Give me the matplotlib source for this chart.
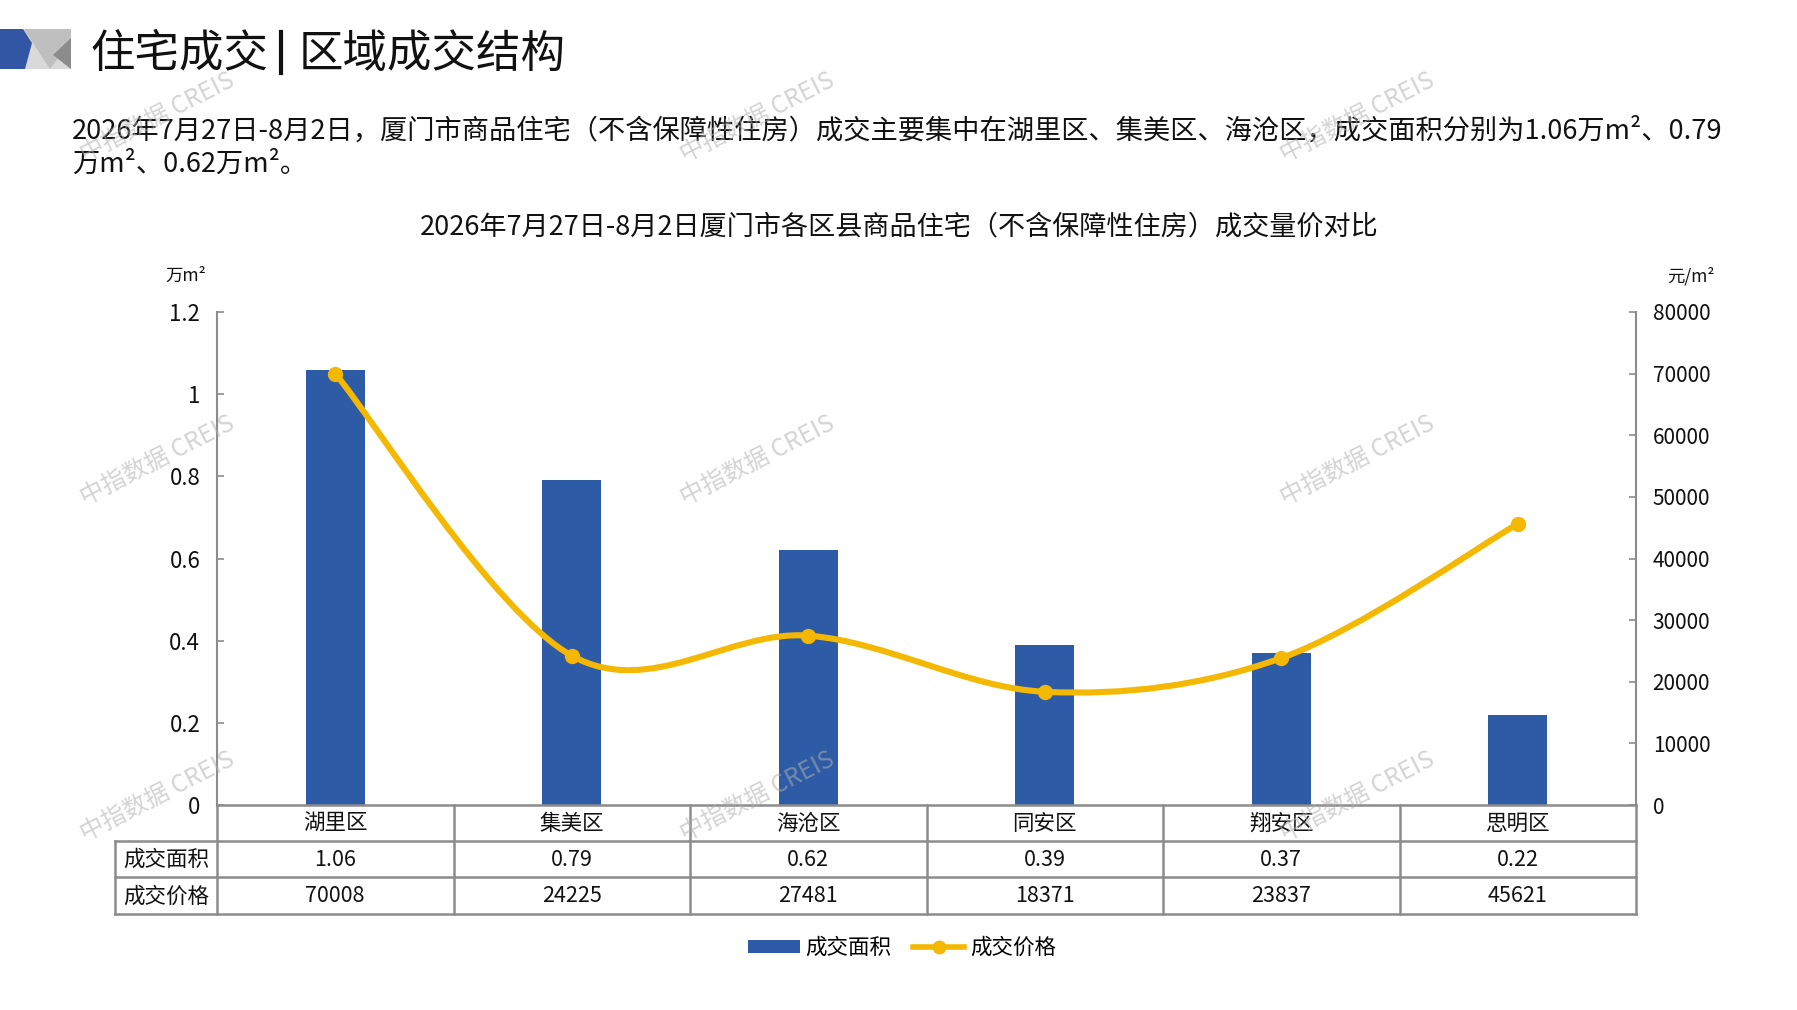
import matplotlib
matplotlib.use("Agg")
import matplotlib.pyplot as plt
from matplotlib.path import Path
from matplotlib.patches import PathPatch, Polygon, Patch
from matplotlib.lines import Line2D
import matplotlib.transforms as mtransforms
import numpy as np

plt.rcParams['font.family'] = ['Noto Sans CJK SC', 'DejaVu Sans']

# ---------------- data ----------------
districts = ['湖里区', '集美区', '海沧区', '同安区', '翔安区', '思明区']
area = [1.06, 0.79, 0.62, 0.39, 0.37, 0.22]          # 万m²
price = [70008, 24225, 27481, 18371, 23837, 45621]   # 元/m²
area_ticks = [0, 0.2, 0.4, 0.6, 0.8, 1.0, 1.2]
area_tick_labels = ['0', '0.2', '0.4', '0.6', '0.8', '1', '1.2']
price_ticks = [0, 10000, 20000, 30000, 40000, 50000, 60000, 70000, 80000]
series_names = ['成交面积', '成交价格']

header_title_a = '住宅成交'
header_title_b = '区域成交结构'
para_line1 = '2026年7月27日-8月2日，厦门市商品住宅（不含保障性住房）成交主要集中在湖里区、集美区、海沧区，成交面积分别为1.06万m²、0.79'
para_line2 = '万m²、0.62万m²。'
chart_title = '2026年7月27日-8月2日厦门市各区县商品住宅（不含保障性住房）成交量价对比'
watermark = '中指数据 CREIS'

# ---------------- style ----------------
BLUE = '#2E5BA6'
GOLD = '#F5B800'
GRID = '#8C8C8C'
TXT = '#111111'

W, H = 1797, 1010
fig = plt.figure(figsize=(W / 100, H / 100), dpi=100)


def fx(px):
    return px / W


def fy(py):
    return 1 - py / H


# ---------------- header ----------------
def poly(pts, color):
    p = Polygon([(fx(a), fy(b)) for a, b in pts], closed=True, facecolor=color,
                edgecolor='none', transform=fig.transFigure)
    fig.add_artist(p)


poly([(22, 29), (71, 29), (71, 69), (22, 69)], '#D9D9D9')
poly([(24, 29), (71, 29), (71, 40), (50, 69), (24, 29)], '#BFBFBF')
poly([(71, 38), (53, 55), (71, 69)], '#8C8C8C')
poly([(0, 29), (23, 29), (32, 43), (25, 69), (0, 69)], '#3255A4')

fig.text(fx(90), fy(54), header_title_a, fontsize=32, color=TXT, va='center', ha='left')
fig.add_artist(Line2D([fx(281), fx(281)], [fy(32), fy(73)], color=TXT, lw=3,
                      transform=fig.transFigure))
fig.text(fx(299), fy(54), header_title_b, fontsize=32, color=TXT, va='center', ha='left')

fig.text(fx(72), fy(131), para_line1, fontsize=19.6, color=TXT, va='center', ha='left')
fig.text(fx(72), fy(164), para_line2, fontsize=19.6, color=TXT, va='center', ha='left')

fig.text(fx(899), fy(227), chart_title, fontsize=19.5, color=TXT, va='center', ha='center')

# ---------------- axes ----------------
ax_l, ax_r, ax_t, ax_b = 217, 1636, 312, 805
ax = fig.add_axes([fx(ax_l), fy(ax_b), (ax_r - ax_l) / W, (ax_b - ax_t) / H])
ax2 = ax.twinx()

x = np.arange(len(districts))
ax.bar(x, area, width=0.25, color=BLUE, zorder=2)
ax.set_xlim(-0.5, len(districts) - 0.5)
ax.set_ylim(0, 1.2)
ax.set_yticks(area_ticks)
ax.set_yticklabels(area_tick_labels)
ax.set_xticks([])
ax2.set_ylim(0, 80000)
ax2.set_yticks(price_ticks)
ax2.set_yticklabels([str(v) for v in price_ticks])

for a in (ax, ax2):
    for s in ('top', 'bottom'):
        a.spines[s].set_visible(False)
    a.spines['left'].set_color(GRID)
    a.spines['right'].set_color(GRID)
    a.spines['left'].set_linewidth(1.5)
    a.spines['right'].set_linewidth(1.5)
    a.set_facecolor('none')
ax.spines['right'].set_visible(False)
ax2.spines['left'].set_visible(False)

ax.tick_params(axis='y', direction='in', length=5, width=1.2, color=GRID,
               pad=12, labelsize=16, labelcolor=TXT)
ax2.tick_params(axis='y', direction='in', length=5, width=1.2, color=GRID,
                pad=12, labelsize=15, labelcolor=TXT)

# smoothed price line (Catmull-Rom style Bezier through the data points)
px_ = list(x.astype(float))
py_ = list(map(float, price))
n = len(px_)
verts = [(px_[0], py_[0])]
codes = [Path.MOVETO]
for i in range(n - 1):
    p0 = (px_[max(i - 1, 0)], py_[max(i - 1, 0)])
    p1 = (px_[i], py_[i])
    p2 = (px_[i + 1], py_[i + 1])
    p3 = (px_[min(i + 2, n - 1)], py_[min(i + 2, n - 1)])
    c1 = (p1[0] + (p2[0] - p0[0]) / 6, p1[1] + (p2[1] - p0[1]) / 6)
    c2 = (p2[0] - (p3[0] - p1[0]) / 6, p2[1] - (p3[1] - p1[1]) / 6)
    verts += [c1, c2, p2]
    codes += [Path.CURVE4] * 3
ax2.add_patch(PathPatch(Path(verts, codes), facecolor='none', edgecolor=GOLD,
                        lw=4.4, zorder=3, capstyle='round', joinstyle='round'))
ax2.plot(x, price, linestyle='none', marker='o', markersize=10, color=GOLD, zorder=4)

# unit labels
fig.text(fx(186), fy(276), '万m²', fontsize=12.5, color=TXT, ha='center', va='center')
fig.text(fx(1691), fy(276), '元/m²', fontsize=12.5, color=TXT, ha='center', va='center')

# ---------------- data table ----------------
trans = mtransforms.blended_transform_factory(ax.transData, ax.transAxes)
ah = ax_b - ax_t
rows_px = [805, 841, 877, 914]
r = [-(v - ax_b) / ah for v in rows_px]
x_left = -0.5 + (115 - ax_l) / ((ax_r - ax_l) / len(districts))
xr = len(districts) - 0.5


def tline(xs, ys):
    ax.add_line(Line2D(xs, ys, color=GRID, lw=1.8, transform=trans, clip_on=False))


tline([-0.5, xr], [r[0], r[0]])
for k in (1, 2, 3):
    tline([x_left, xr], [r[k], r[k]])
for k in range(len(districts) + 1):
    tline([-0.5 + k, -0.5 + k], [r[0], r[3]])
tline([x_left, x_left], [r[1], r[3]])

mid = [(r[k] + r[k + 1]) / 2 - 1.0 / ah for k in range(3)]
for i, d in enumerate(districts):
    ax.text(i, mid[0], d, transform=trans, ha='center', va='center', fontsize=15.5, color=TXT)
    ax.text(i, mid[1], f'{area[i]:.2f}', transform=trans, ha='center', va='center', fontsize=15.5, color=TXT)
    ax.text(i, mid[2], f'{price[i]}', transform=trans, ha='center', va='center', fontsize=15.5, color=TXT)
hx = (x_left - 0.5) / 2
ax.text(hx, mid[1], series_names[0], transform=trans, ha='center', va='center', fontsize=15.5, color=TXT)
ax.text(hx, mid[2], series_names[1], transform=trans, ha='center', va='center', fontsize=15.5, color=TXT)

# ---------------- legend ----------------
handles = [Patch(facecolor=BLUE, edgecolor='none'),
           Line2D([], [], color=GOLD, lw=4, marker='o', markersize=9)]
fig.legend(handles, series_names, loc='center', bbox_to_anchor=(fx(902), fy(948)),
           ncol=2, frameon=False, fontsize=15.5, handlelength=2.4, handleheight=0.55,
           columnspacing=1.0, handletextpad=0.25)

# ---------------- watermarks ----------------
for wx in (157, 757, 1357):
    for wy in (118, 461, 797):
        fig.text(fx(wx), fy(wy), watermark, fontsize=17.5, color='#B0B0B0', alpha=0.55,
                 rotation=27, ha='center', va='center', rotation_mode='anchor', zorder=10)

fig.savefig('out.png', dpi=100)
